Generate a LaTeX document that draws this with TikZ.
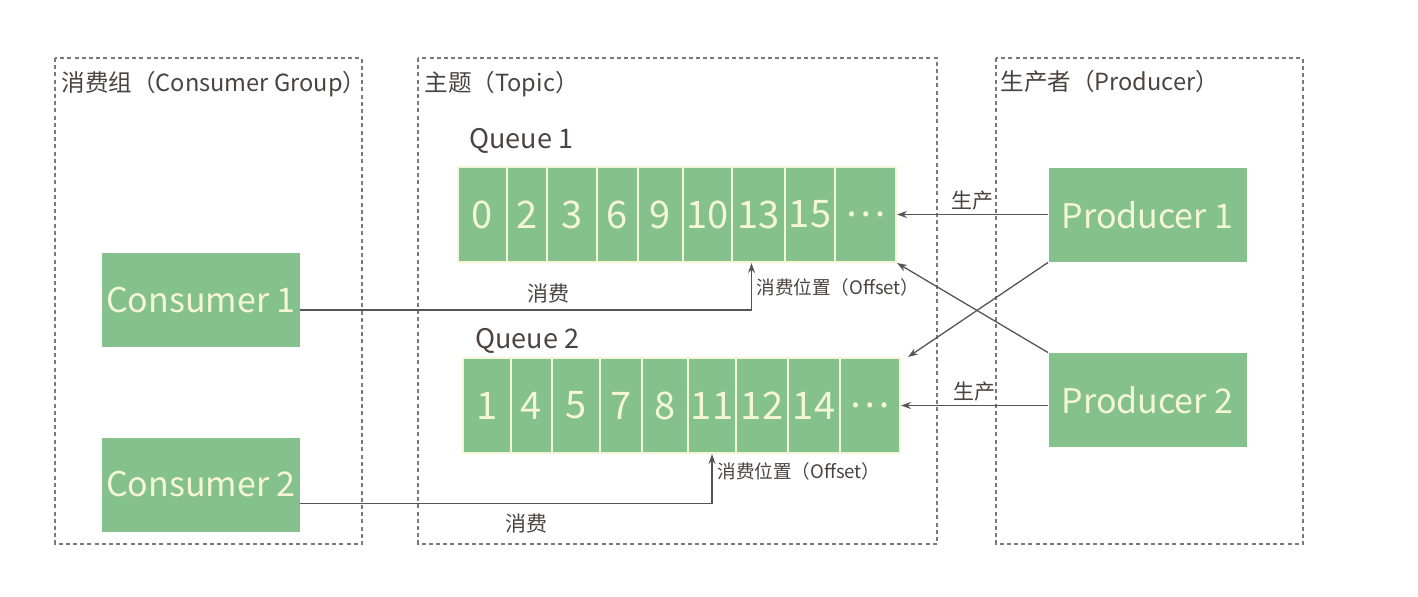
\documentclass[tikz,border=0pt]{standalone}
\usepackage{fontspec}
\setmainfont{Noto Sans CJK SC}
\usetikzlibrary{arrows.meta,positioning,calc}
\definecolor{mqgreen}{RGB}{132,193,140}
\definecolor{mqcream}{RGB}{244,246,214}
\definecolor{mqink}{RGB}{75,67,67}
\definecolor{mqgrey}{RGB}{120,120,120}
\definecolor{mqline}{RGB}{85,85,85}
\tikzset{
  groupframe/.style={draw=mqgrey,line width=0.9pt,dash pattern=on 2pt off 1.6pt},
  grouptitle/.style={mqink,font=\fontsize{11.8}{13}\selectfont,anchor=west,inner sep=0pt},
  queuename/.style={mqink,font=\fontsize{13.5}{15}\selectfont,anchor=west,inner sep=0pt},
  actor/.style={fill=mqgreen,text=mqcream,minimum width=99pt,minimum height=47pt,
    inner sep=0pt,font=\fontsize{17}{17}\selectfont},
  slot/.style={fill=mqgreen,draw=mqcream,line width=1pt,text=mqcream,minimum height=47.5pt,
    inner sep=0pt,font=\fontsize{19}{19}\selectfont},
  msgflow/.style={draw=mqline,line width=0.65pt,-{Stealth[length=5pt,width=3.5pt]}},
  actnote/.style={mqink,font=\fontsize{10.5}{12}\selectfont,inner sep=1pt},
  offsetnote/.style={mqink,font=\fontsize{9.3}{10}\selectfont,inner sep=1pt,anchor=west},
}
\begin{document}
\begin{tikzpicture}[x=0.5pt,y=-0.5pt]
\useasboundingbox (0,0) rectangle (1418,596);
% the three groups
\draw[groupframe] (55,58) rectangle (362,544);
\draw[groupframe] (418,58) rectangle (937,544);
\draw[groupframe] (996,58) rectangle (1303,544);
\node[grouptitle] (tcg) at (61,84) {消费组（Consumer Group）};
\node[grouptitle] (ttp) at (424,84) {主题（Topic）};
\node[grouptitle] (tpr) at (1000,82) {生产者（Producer）};

% consumers and producers
\node[actor] (c1) at (201,300) {Consumer 1};
\node[actor] (c2) at (201,484.5) {Consumer 2};
\node[actor] (p1) at (1147.5,215) {Producer 1};
\node[actor] (p2) at (1147.5,400) {Producer 2};

% queues
\node[queuename] (qna) at (469,141) {Queue 1};
\foreach \l/\r/\t [count=\i] in {458/507/0,507/547/2,547/597/3,597/638/6,638/683/9,
    683/732/10,732/785/13,785/835/15,835/896/\dots}{
  \pgfmathsetmacro\w{(\r-\l)*0.5}
  \node[slot,minimum width=\w pt] (qa\i) at ({(\l+\r)/2},214.5) {\t};
}
\node[queuename] (qnb) at (475,341) {Queue 2};
\foreach \l/\r/\t [count=\i] in {463/511/1,511/552/4,552/600/5,600/642/7,642/688/8,
    688/736/11,736/788/12,788/840/14,840/900/\dots}{
  \pgfmathsetmacro\w{(\r-\l)*0.5}
  \node[slot,minimum width=\w pt] (qb\i) at ({(\l+\r)/2},405.5) {\t};
}

% producing
\draw[msgflow] (qa9.east -| p1.west) -- node[above=1pt,actnote] {生产} (qa9.east);
\draw[msgflow] (qb9.east -| p2.west) -- node[above=1pt,actnote] {生产} (qb9.east);
\draw[msgflow] (p1.south west) -- ([xshift=3.5pt]qb9.north east);
\draw[msgflow] (p2.north west) -- (qa9.south east);

% consuming
\coordinate (c1out) at ([yshift=-5pt]c1.east);
\coordinate (c2out) at ([yshift=-9.5pt]c2.east);
\coordinate (c1in) at ([xshift=-3.5pt]qa7.south);
\draw[msgflow] (c1out) -- node[above=2pt,pos=0.55,actnote] {消费} (c1out -| c1in) -- (c1in);
\draw[msgflow] (c2out) -- node[below=4pt,pos=0.55,actnote] {消费} (c2out -| qb6.south) -- (qb6.south);
\node[offsetnote] (off1) at (754,287) {消费位置（Offset）};
\node[offsetnote] (off2) at (715,471) {消费位置（Offset）};
\end{tikzpicture}
\end{document}
